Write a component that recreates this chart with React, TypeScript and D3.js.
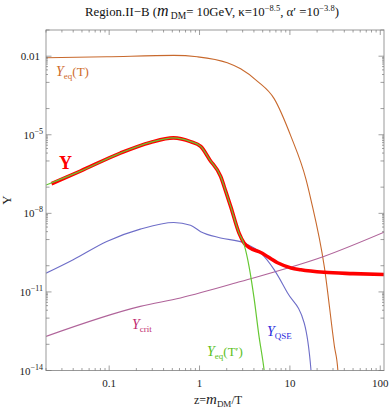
import React from "react";
import * as d3 from "d3";

// plot box (px)
const W = 391;
const H = 409;
const M = { left: 46, right: 384, top: 30, bottom: 370.5 };

// Y : solution of the Boltzmann eq. (thick red)
const zY = [0.023, 0.048, 0.133, 0.286, 0.514, 0.794, 1.03, 1.3, 1.71, 1.95, 2.21, 2.73, 3.11, 3.6, 4.76, 7.3, 10.3, 13.2, 23.9, 50, 110];
const yY = [1.35e-7, 4.1e-7, 2.0e-6, 5.1e-6, 7.6e-6, 5.5e-6, 3.6e-6, 1.1e-6, 2.6e-7, 6.9e-8, 1.85e-8, 1.8e-9, 7.4e-10, 4.8e-10, 3.2e-10, 1.3e-10, 8.2e-11, 7.0e-11, 5.6e-11, 5.0e-11, 4.6e-11];

// Yeq(T') (green)
const zEqHid = [0.02, 0.048, 0.133, 0.286, 0.514, 0.794, 1.03, 1.3, 1.71, 1.95, 2.21, 2.73, 3.11, 3.53, 4.01, 4.53, 5.18, 5.6];
const yEqHid = [1.2e-7, 4.1e-7, 2.0e-6, 5.1e-6, 7.6e-6, 5.5e-6, 3.6e-6, 1.1e-6, 2.6e-7, 6.9e-8, 1.85e-8, 1.8e-9, 6.5e-10, 9.5e-11, 5.9e-12, 2.3e-13, 1.07e-14, 1e-15];

// Yeq(T) (orange)
const zEq = [0.02, 0.094, 0.518, 0.943, 2.03, 2.85, 4.38, 6.69, 10.3, 15.1, 17.1, 24.0, 31.1, 33.9, 35];
const yEq = [8.7e-3, 9.5e-3, 1.07e-2, 9.5e-3, 5.6e-3, 3.3e-3, 1.1e-3, 2.4e-4, 8.5e-6, 1.95e-7, 3.3e-8, 9.5e-11, 8.3e-14, 1.07e-14, 1e-15];

// Y_QSE (blue)
const zQse = [0.02, 0.04, 0.094, 0.221, 0.518, 0.794, 1.03, 1.71, 3.11, 4.76, 6.69, 9.43, 14.4, 17.1, 18];
const yQse = [5.2e-11, 1.7e-10, 8.5e-10, 2.5e-9, 4.5e-9, 3.5e-9, 2.0e-9, 1.15e-9, 7.4e-10, 3.1e-10, 7.1e-11, 9.1e-12, 6.5e-13, 1.07e-14, 1e-15];

// Y_crit (purple)
const zCrit = [0.02, 0.221, 0.615, 2.85, 24.1, 110];
const yCrit = [2.0e-13, 2.8e-12, 5.9e-12, 2.5e-11, 2.3e-10, 1.9e-9];

// ticks
const xMajor = [0.1, 1, 10, 100];
const xLabels = ["0.1", "1", "10", "100"];
const yMajorExp = [-14, -11, -8, -5, -2];

const x = d3.scaleLog().domain([0.02, 110]).range([M.left, M.right]);
const y = d3.scaleLog().domain([1e-14, 0.1]).range([M.bottom, M.top]);

const line = d3
  .line<[number, number]>()
  .x((d) => x(d[0]))
  .y((d) => y(d[1]))
  .curve(d3.curveMonotoneX);

const pts = (zs: number[], ys: number[]) => zs.map((z, i) => [z, ys[i]] as [number, number]);

const font = "'Liberation Serif', 'Times New Roman', serif";

export default function App() {
  const [xd0, xd1] = x.domain();
  const xMinor: number[] = [];
  for (let k = -2; k <= 2; k++) {
    for (let m = 1; m <= 9; m++) {
      const v = m * Math.pow(10, k);
      if (v >= xd0 && v <= xd1 && !xMajor.some((t) => Math.abs(t - v) < 1e-9)) xMinor.push(v);
    }
  }
  const yDecades: number[] = [];
  for (let k = -14; k <= -1; k++) if (!yMajorExp.includes(k)) yDecades.push(Math.pow(10, k));
  const yMinor: number[] = [];
  yMajorExp.forEach((k) => {
    for (let m = 2; m <= 9; m++) {
      const v = m * Math.pow(10, k - 1);
      if (v >= 1e-14) yMinor.push(v);
    }
  });

  const tickCol = "#777";
  const xTick = (v: number, len: number, key: string) => (
    <g key={key}>
      <line x1={x(v)} x2={x(v)} y1={M.bottom} y2={M.bottom - len} stroke={tickCol} strokeWidth={0.7} />
      <line x1={x(v)} x2={x(v)} y1={M.top} y2={M.top + len} stroke={tickCol} strokeWidth={0.7} />
    </g>
  );
  const yTick = (v: number, len: number, key: string) => (
    <g key={key}>
      <line x1={M.left} x2={M.left + len} y1={y(v)} y2={y(v)} stroke={tickCol} strokeWidth={0.7} />
      <line x1={M.right} x2={M.right - len} y1={y(v)} y2={y(v)} stroke={tickCol} strokeWidth={0.7} />
    </g>
  );

  return (
    <svg width={W} height={H} style={{ display: "block", position: "absolute", left: 0, top: 0 }} fontFamily={font}>
      <rect width={W} height={H} fill="#fff" />
      <defs>
        <clipPath id="plot">
          <rect x={M.left} y={M.top} width={M.right - M.left} height={M.bottom - M.top} />
        </clipPath>
      </defs>

      {/* title */}
      <text x={212} y={16} fontSize={12.8} textAnchor="middle" fill="#111">
        Region.II−B (
        <tspan fontStyle="italic" fontSize={16}>m</tspan>
        <tspan fontSize={9.5} dy={3}> DM</tspan>
        <tspan dy={-3}>= 10GeV, κ=10</tspan>
        <tspan fontSize={8.5} dy={-5}>−8.5</tspan>
        <tspan dy={5}>, α′ =10</tspan>
        <tspan fontSize={8.5} dy={-5}>−3.8</tspan>
        <tspan dy={5}>)</tspan>
      </text>

      {/* curves */}
      <g clipPath="url(#plot)" fill="none">
        <path d={line(pts(zEq, yEq)) || ""} stroke="#c8692d" strokeWidth={1.1} />
        <path d={line(pts(zCrit, yCrit)) || ""} stroke="#b0649a" strokeWidth={1.1} />
        <path d={line(pts(zQse, yQse)) || ""} stroke="#6e6ec8" strokeWidth={1.1} />
        <path d={line(pts(zY, yY)) || ""} stroke="#ff0000" strokeWidth={3.6} strokeLinejoin="round" />
        <path d={line(pts(zEqHid, yEqHid)) || ""} stroke="#66c833" strokeWidth={1.2} />
      </g>

      {/* frame + ticks */}
      <rect x={M.left} y={M.top} width={M.right - M.left} height={M.bottom - M.top} fill="none" stroke="#999" strokeWidth={1} />
      {xMinor.map((v, i) => xTick(v, 2.5, "xm" + i))}
      {xMajor.map((v, i) => xTick(v, 5, "xM" + i))}
      {yMinor.map((v, i) => yTick(v, 2, "ym" + i))}
      {yDecades.map((v, i) => yTick(v, 3.5, "yd" + i))}
      {yMajorExp.map((k, i) => yTick(Math.pow(10, k), 5.5, "yM" + i))}

      {/* tick labels */}
      {xMajor.map((v, i) => (
        <text key={"xl" + i} x={x(v)} y={387} fontSize={11} textAnchor="middle" fill="#222">
          {xLabels[i]}
        </text>
      ))}
      {yMajorExp.map((k, i) =>
        k === -2 ? (
          <text key={"yl" + i} x={40} y={y(0.01) + 4} fontSize={11} textAnchor="end" fill="#222">
            0.01
          </text>
        ) : (
          <text key={"yl" + i} x={43} y={y(Math.pow(10, k)) + 4} fontSize={11} textAnchor="end" fill="#222">
            10
            <tspan fontSize={8} dy={-5}>{"−" + Math.abs(k)}</tspan>
          </text>
        )
      )}

      {/* axis labels */}
      <text x={218} y={404} fontSize={12} textAnchor="middle" fill="#222">
        z=
        <tspan fontStyle="italic" fontSize={15}>m</tspan>
        <tspan fontSize={9} dy={3}>DM</tspan>
        <tspan dy={-3}>/T</tspan>
      </text>
      <text transform="translate(11,200) rotate(-90)" fontSize={13} textAnchor="middle" fill="#222">
        Y
      </text>

      {/* curve labels */}
      <text x={59} y={169} fontSize={18} fontWeight="bold" fill="#ff0000">
        Y
      </text>
      <text x={56} y={76} fontSize={13} fill="#cf6c2b">
        <tspan fontStyle="italic" fontSize={14}>Y</tspan>
        <tspan fontSize={9} dy={3}>eq</tspan>
        <tspan dy={-3}>(T)</tspan>
      </text>
      <text x={132} y={329} fontSize={13} fill="#c02a70">
        <tspan fontStyle="italic" fontSize={14}>Y</tspan>
        <tspan fontSize={9} dy={3}>crit</tspan>
      </text>
      <text x={207} y={356} fontSize={13} fill="#5cbf22">
        <tspan fontStyle="italic" fontSize={14}>Y</tspan>
        <tspan fontSize={9} dy={3}>eq</tspan>
        <tspan dy={-3}>(T′)</tspan>
      </text>
      <text x={267} y={336} fontSize={13} fill="#2b2bdc">
        <tspan fontStyle="italic" fontSize={14}>Y</tspan>
        <tspan fontSize={9} dy={3}>QSE</tspan>
      </text>
    </svg>
  );
}
